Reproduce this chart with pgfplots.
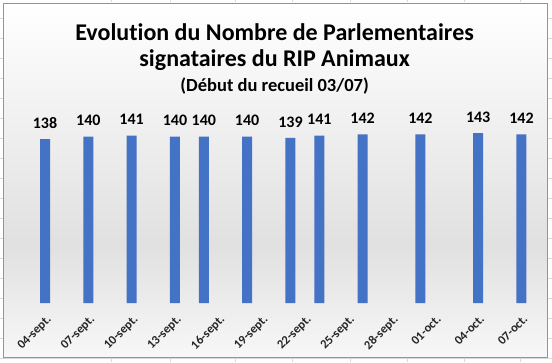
\documentclass[border=0pt]{standalone}
\usepackage{pgfplots}
\pgfplotsset{compat=1.18}
\usepackage{fontspec}
\setmainfont{Carlito}[Ligatures=NoCommon]
\definecolor{barblue}{HTML}{4472C4}
\definecolor{frame}{HTML}{8497B0}
\definecolor{labgray}{HTML}{262626}
\begin{document}
\begin{tikzpicture}[x=1pt,y=1pt]
\path[use as bounding box] (0,0) rectangle (552,362);
\fill[white] (0,0) rectangle (552,362);
\foreach \x in {111,170,235,292,350,407,464,520} \draw[gray!30, line width=0.6pt] (\x,0) -- (\x,362);
\foreach \y in {18,38,...,358} \draw[gray!30, line width=0.6pt] (0,{362-\y}) -- (552,{362-\y});
\shade[top color=white, bottom color=gray!24] (3,117) rectangle (547,359);
\shade[top color=gray!24, bottom color=gray!6] (3,5) rectangle (547,117);
\draw[color=frame, line width=0.8pt] (3,5) rectangle (547,359);
\node[font=\bfseries\fontsize{24}{28}\selectfont] at (274.6,330.3) {Evolution du Nombre de Parlementaires};
\node[font=\bfseries\fontsize{24}{28}\selectfont] at (274.6,302) {signataires du RIP Animaux};
\node[font=\bfseries\fontsize{18.5}{22}\selectfont] at (274.6,276) {(Début du recueil 03/07)};
\begin{axis}[
  at={(37.8pt,59pt)}, anchor=south west,
  scale only axis, width=490.9pt, height=190pt,
  xmin=-0.5, xmax=33.5, ymin=0, ymax=160,
  axis lines=none,
  ybar, bar width=10pt,
  clip=false,
  nodes near coords={\pgfmathprintnumber[assume math mode=true]{\pgfplotspointmeta}},
  every node near coord/.append style={font=\bfseries\fontsize{16}{19}\selectfont, anchor=center, yshift=16pt, text=black},
]
\addplot[draw=none, fill=barblue] coordinates {
(0,138) (3,140) (6,141) (9,140) (11,140) (14,140) (17,139) (19,141) (22,142) (26,142) (30,143) (33,142)
};
\end{axis}
\begin{axis}[
  at={(37.8pt,59pt)}, anchor=south west,
  scale only axis, width=490.9pt, height=190pt,
  xmin=-0.5, xmax=33.5, ymin=0, ymax=160,
  axis x line=bottom, axis y line=none,
  x axis line style={draw=none},
  xtick={0,3,...,33}, major tick length=0pt,
  xticklabels={04-sept.,07-sept.,10-sept.,13-sept.,16-sept.,19-sept.,22-sept.,25-sept.,28-sept.,01-oct.,04-oct.,07-oct.},
  xticklabel style={font=\bfseries\fontsize{12.5}{14}\selectfont, text=labgray, xshift=1pt, yshift=-11pt, rotate=45, anchor=north east, inner sep=0pt},
]
\addplot[draw=none] coordinates {(0,0)};
\end{axis}
\end{tikzpicture}
\end{document}
